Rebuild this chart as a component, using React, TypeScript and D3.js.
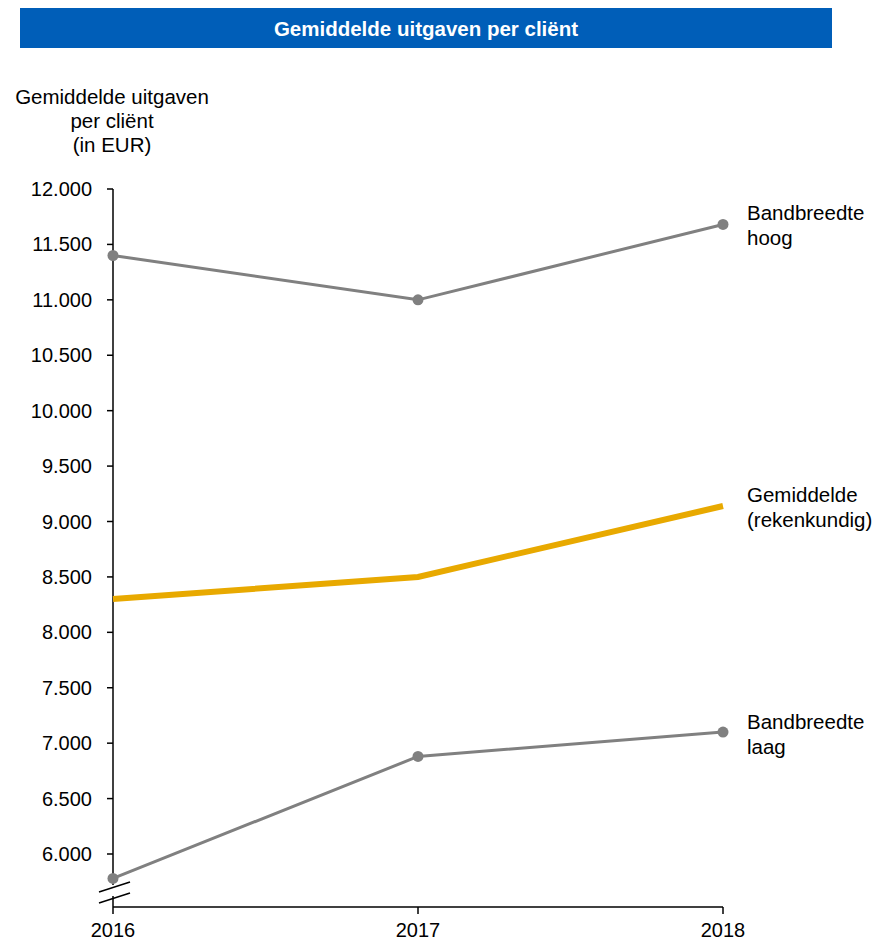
import React from "react";
import * as d3 from "d3";

const years = ["2016", "2017", "2018"];
const hoog = [11400, 11000, 11680];
const gemiddelde = [8300, 8500, 9140];
const laag = [5780, 6880, 7100];
const yTicks = [6000, 6500, 7000, 7500, 8000, 8500, 9000, 9500, 10000, 10500, 11000, 11500, 12000];
const title = "Gemiddelde uitgaven per cliënt";
const yTitle = ["Gemiddelde uitgaven", "per cliënt", "(in EUR)"];
const labelHoog = ["Bandbreedte", "hoog"];
const labelGem = ["Gemiddelde", "(rekenkundig)"];
const labelLaag = ["Bandbreedte", "laag"];

const fmt = (v: number) => d3.format(",")(v).replace(/,/g, ".");

export default function App() {
  const W = 878, H = 940;
  const font = "Liberation Sans, Arial, sans-serif";
  const x = d3.scalePoint<string>().domain(years).range([113, 723]);
  const y = d3.scaleLinear().domain([6000, 12000]).range([854, 189]);
  const axisBottom = 907;
  const line = d3.line<number>().x((_, i) => x(years[i])!).y((d) => y(d));
  const gray = "#808080";
  const gold = "#E8A900";
  const labelLines = (lines: string[], yy: number) =>
    lines.map((t, i) => (
      <text key={i} x={747} y={yy + i * 24.5} fontSize={20.5} fontFamily={font} fill="#000">{t}</text>
    ));
  return (
    <svg width={W} height={H} style={{ position: "absolute", left: 0, top: 0 }}>
      <rect x={0} y={0} width={W} height={H} fill="#fff" />
      <rect x={20} y={8} width={812} height={40} fill="#005EB8" />
      <text x={426} y={36} textAnchor="middle" fontSize={20.5} fontWeight="bold" fontFamily={font} fill="#fff">{title}</text>
      {yTitle.map((t, i) => (
        <text key={i} x={112} y={104 + i * 24} textAnchor="middle" fontSize={20.5} fontFamily={font}>{t}</text>
      ))}
      {/* y axis */}
      <line x1={113} x2={113} y1={189} y2={axisBottom} stroke="#000" strokeWidth={1.5} />
      {yTicks.map((t) => (
        <g key={t}>
          <line x1={107} x2={113} y1={y(t)} y2={y(t)} stroke="#000" strokeWidth={1.5} />
          <text x={92} y={y(t) + 7} textAnchor="end" fontSize={20} fontFamily={font}>{fmt(t)}</text>
        </g>
      ))}
      {/* break marks */}
      <rect x={108} y={885} width={10} height={11} fill="#fff" />
      <line x1={99} x2={130} y1={892} y2={882} stroke="#000" strokeWidth={1.5} />
      <line x1={99} x2={130} y1={903} y2={893} stroke="#000" strokeWidth={1.5} />
      {/* x axis */}
      <line x1={113} x2={723} y1={axisBottom} y2={axisBottom} stroke="#000" strokeWidth={1.5} />
      {years.map((yr) => (
        <g key={yr}>
          <line x1={x(yr)} x2={x(yr)} y1={axisBottom} y2={axisBottom + 7} stroke="#000" strokeWidth={1.5} />
          <text x={x(yr)} y={937} textAnchor="middle" fontSize={20} fontFamily={font}>{yr}</text>
        </g>
      ))}
      {/* lines */}
      <path d={line(hoog)!} fill="none" stroke={gray} strokeWidth={3} />
      <path d={line(laag)!} fill="none" stroke={gray} strokeWidth={3} />
      <path d={line(gemiddelde)!} fill="none" stroke={gold} strokeWidth={6} />
      {[hoog, laag].map((s, k) =>
        s.map((v, i) => <circle key={`${k}-${i}`} cx={x(years[i])} cy={y(v)} r={5.5} fill={gray} />)
      )}
      {labelLines(labelHoog, 220)}
      {labelLines(labelGem, 502)}
      {labelLines(labelLaag, 729)}
    </svg>
  );
}
